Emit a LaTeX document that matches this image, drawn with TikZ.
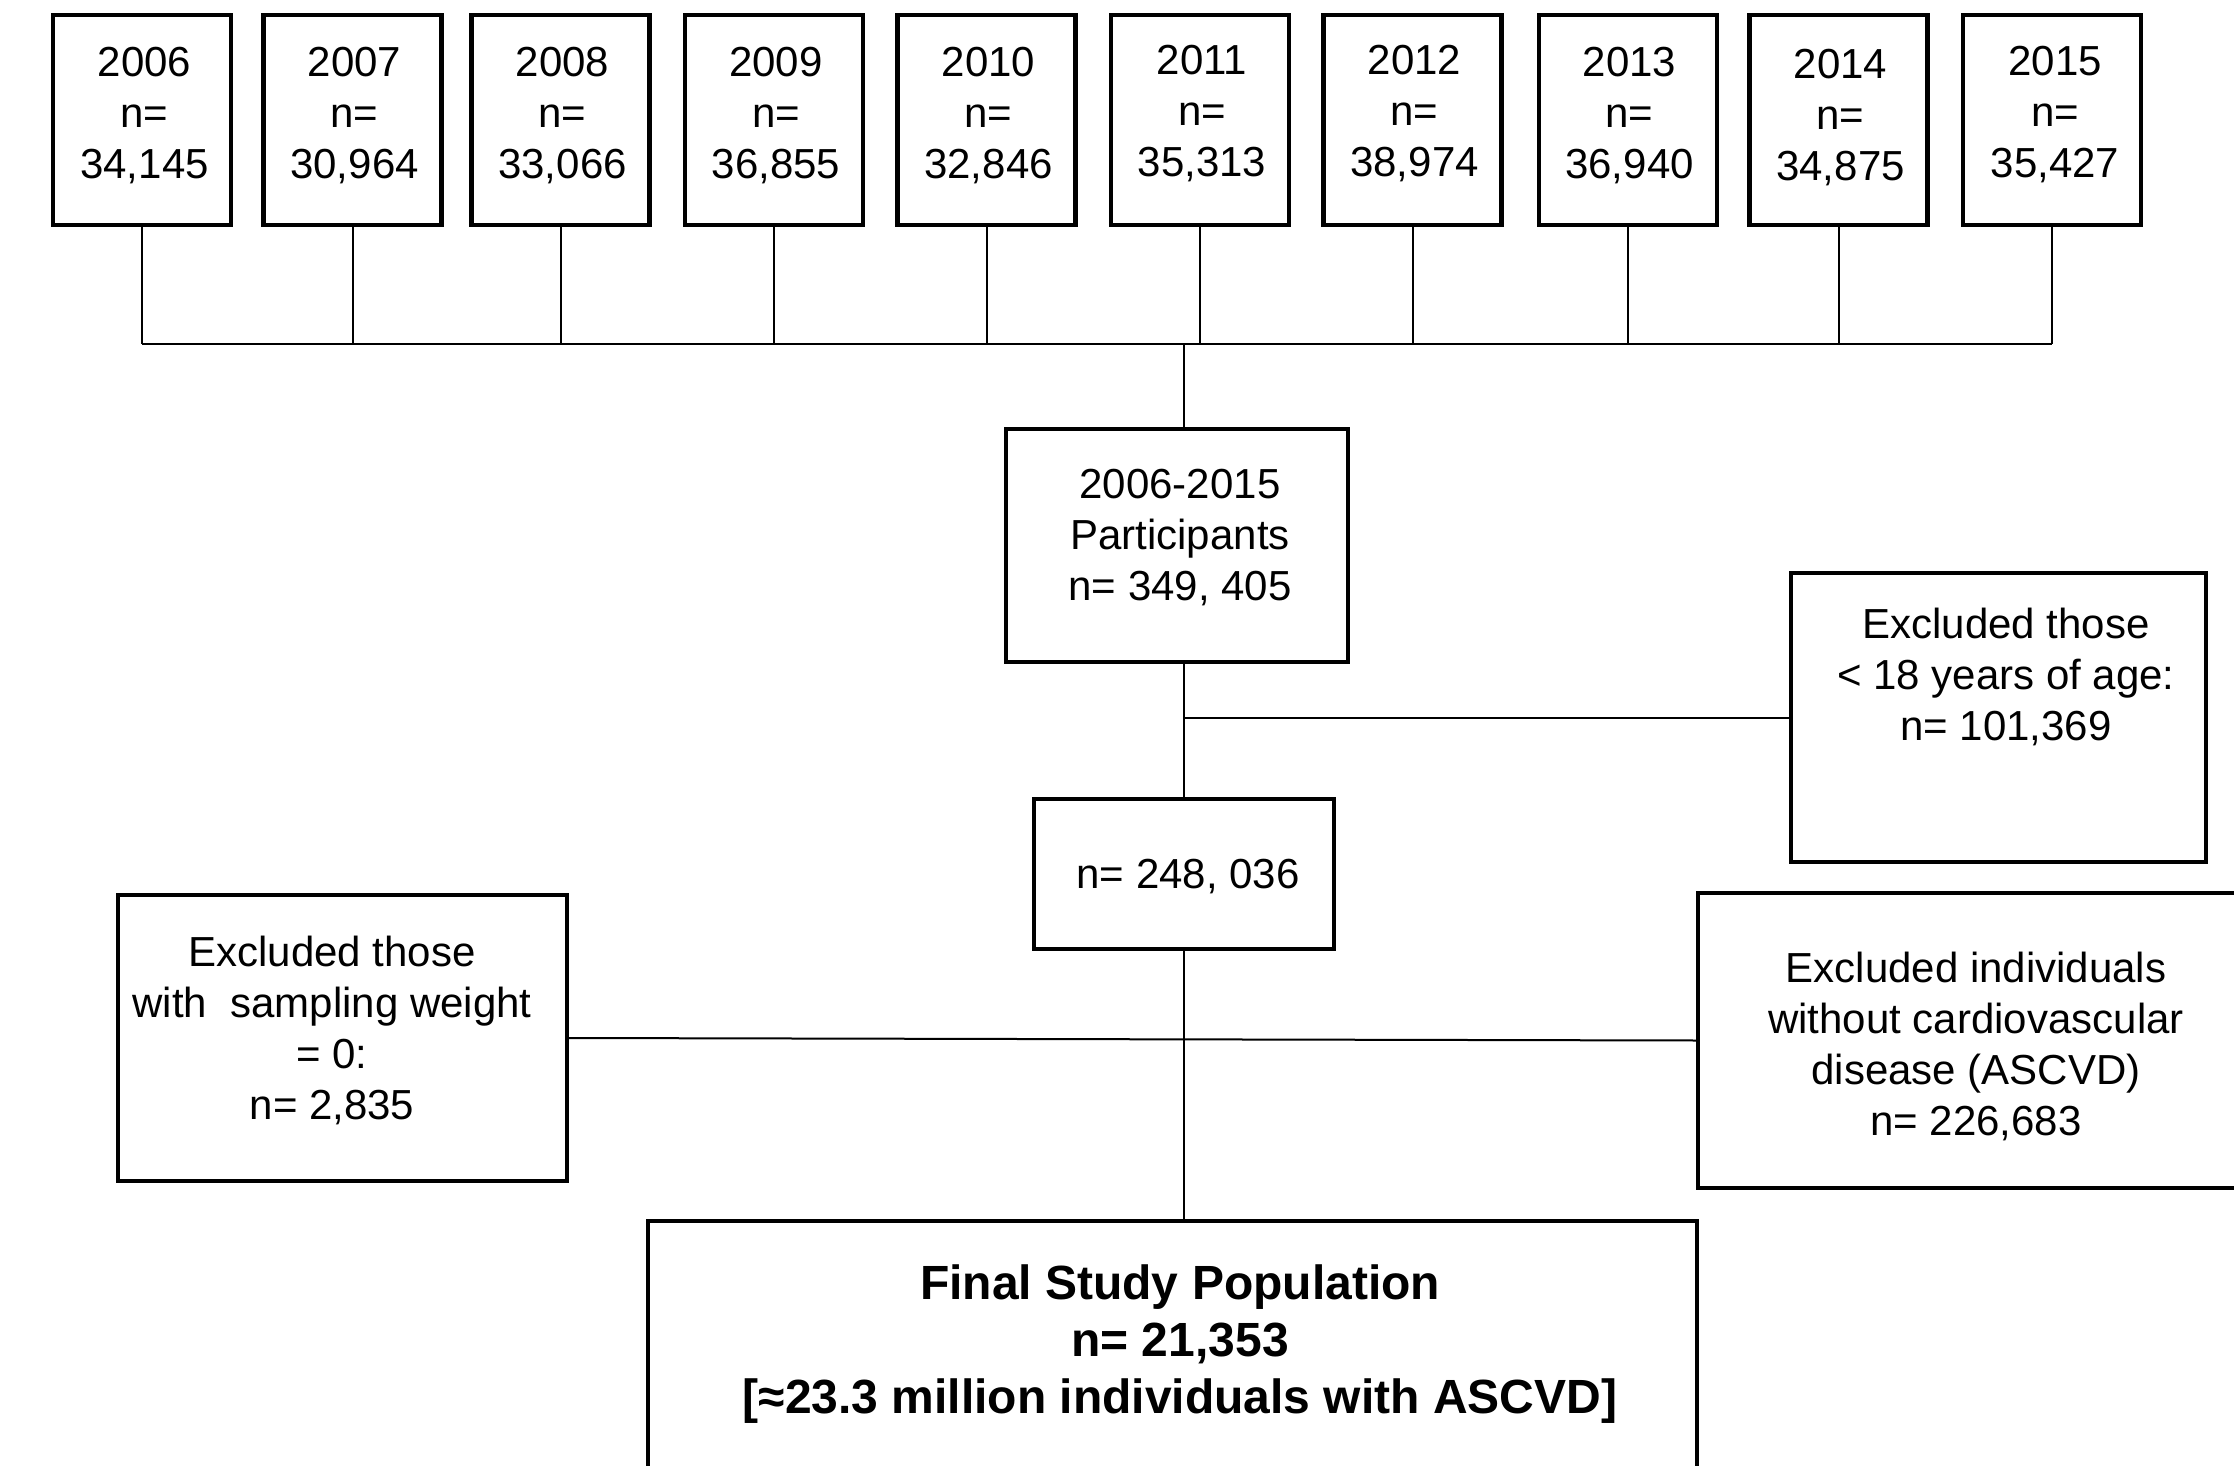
\documentclass[tikz,border=0pt]{standalone}
\usepackage{fontspec}
\setmainfont{Liberation Sans}
\begin{document}
\begin{tikzpicture}[x=0.5pt,y=-0.5pt,
  box/.style={draw=black, line width=2.2pt, rectangle, inner sep=0pt, fill=white},
  yearbox/.style={box, minimum width=89pt, minimum height=105pt},
  txt/.style={align=center, inner sep=0pt, font=\fontsize{21}{25.5}\selectfont, execute at begin node=\strut, execute at end node=\strut},
  boldtxt/.style={align=center, inner sep=0pt, font=\fontsize{24}{28.5}\selectfont\bfseries, execute at begin node=\strut, execute at end node=\strut},
  link/.style={line width=1pt, draw=black}]
\fill[white] (0,0) rectangle (2234,1466);
\useasboundingbox (0,0) rectangle (2234,1466);
\clip (0,0) rectangle (2234,1466);

% year boxes
\node[yearbox] (y06) at (141.8,120) {};
\node[yearbox] (y07) at (352.6,120) {};
\node[yearbox] (y08) at (560.6,120) {};
\node[yearbox] (y09) at (774,120) {};
\node[yearbox] (y10) at (986.6,120) {};
\node[yearbox] (y11) at (1200,120) {};
\node[yearbox] (y12) at (1412.6,120) {};
\node[yearbox] (y13) at (1627.7,120) {};
\node[yearbox] (y14) at (1838.6,120) {};
\node[yearbox] (y15) at (2052,120) {};

\node[txt] (t06) at (144.5,120) {2006\\n=\\34,145};
\node[txt] (t07) at (354.5,120) {2007\\n=\\30,964};
\node[txt] (t08) at (562.5,120) {2008\\n=\\33,066};
\node[txt] (t09) at (776,120) {2009\\n=\\36,855};
\node[txt] (t10) at (988.5,120) {2010\\n=\\32,846};
\node[txt] (t11) at (1202,118) {2011\\n=\\35,313};
\node[txt] (t12) at (1414.5,118) {2012\\n=\\38,974};
\node[txt] (t13) at (1629.5,120) {2013\\n=\\36,940};
\node[txt] (t14) at (1840.5,122) {2014\\n=\\34,875};
\node[txt] (t15) at (2055,119) {2015\\n=\\35,427};

% main flow boxes
\node[box, minimum width=171pt, minimum height=116.5pt] (part) at (1177,545.5) {};
\node[txt] (tpart) at (1180,542.5) {2006-2015\\Participants\\n= 349, 405};

\node[box, minimum width=150pt, minimum height=75pt] (mid) at (1184,874) {};
\node[txt] (tmid) at (1188,878) {n= 248, 036};

\node[box, minimum width=207.5pt, minimum height=144.5pt] (ex1) at (1998.5,717.5) {};
\node[txt] (tex1) at (2006,681.5) {Excluded those\\< 18 years of age:\\n= 101,369};

\node[box, minimum width=224.5pt, minimum height=143pt] (exw) at (342.5,1038) {};
\node[txt] (texw) at (332,1035) {Excluded those\\with\ \ sampling weight\\= 0:\\n= 2,835};

\node[box, minimum width=273.5pt, minimum height=147.5pt] (exr) at (1971.5,1040.5) {};
\node[txt] (texr) at (1976,1051) {Excluded individuals\\without cardiovascular\\disease (ASCVD)\\n= 226,683};

\node[box, minimum width=524.5pt, minimum height=129.5pt] (final) at (1172.5,1350.5) {};
\node[boldtxt] (tfinal) at (1180,1347.5) {Final Study Population\\n= 21,353\\{[}≈23.3 million individuals with ASCVD{]}};

% connectors
\coordinate (bus) at (1184,344);
\foreach \n in {y06,y07,y08,y09,y10,y11,y12,y13,y14,y15}
  \draw[link] (\n.south) -- (\n.south |- bus);
\draw[link] (y06.south |- bus) -- (y15.south |- bus);
\draw[link] (bus) -- (bus |- part.north);
\draw[link] (mid.north |- part.south) -- (mid.north);
\draw[link] (mid.north |- ex1.west) -- (ex1.west);
\draw[link] (mid.south) -- (mid.south |- final.north);
\draw[link] (exw.east) -- (exr.west);
\end{tikzpicture}
\end{document}
